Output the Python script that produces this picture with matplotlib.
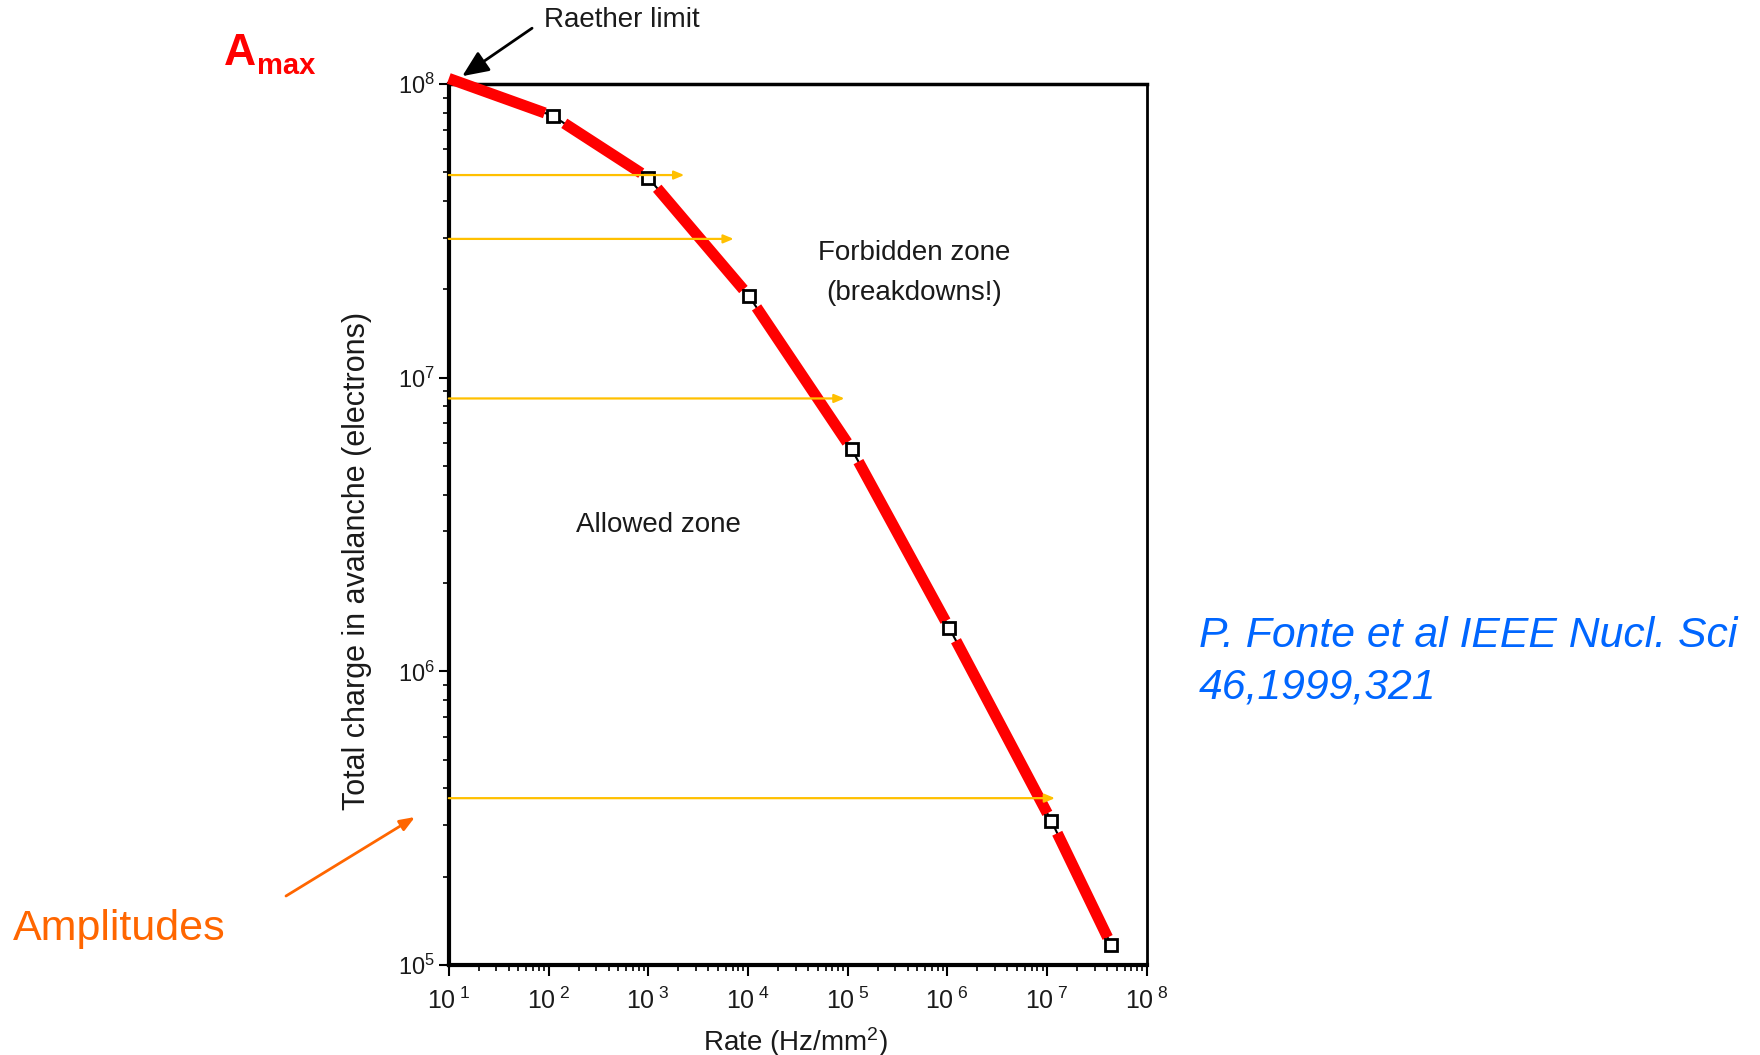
import numpy as np
import matplotlib
matplotlib.use('Agg')
import matplotlib.pyplot as plt

plt.rcParams['font.family'] = ['Liberation Sans', 'DejaVu Sans']
plt.rcParams['mathtext.fontset'] = 'custom'
plt.rcParams['mathtext.rm'] = 'Liberation Sans'
plt.rcParams['mathtext.it'] = 'Liberation Sans:italic'
plt.rcParams['mathtext.default'] = 'regular'

# measured points (rate in Hz/mm2, charge in electrons)
rate = [1.1e2, 1.0e3, 1.02e4, 1.1e5, 1.05e6, 1.1e7, 4.4e7]
charge = [7.8e7, 4.8e7, 1.9e7, 5.7e6, 1.4e6, 3.1e5, 1.17e5]
# start of the red curve at the Raether limit
limit_rate = 10
limit_charge = 1.045e8

# yellow amplitude arrows: level and where they hit the curve
arrow_charge = [4.9e7, 2.97e7, 8.5e6, 3.7e5]
arrow_rate_end = [2.3e3, 7.2e3, 9.3e4, 1.2e7]

xtick_exp = [1, 2, 3, 4, 5, 6, 7, 8]
ytick_exp = [5, 6, 7, 8]

fig = plt.figure(figsize=(17.6, 10.55), dpi=100)
ax = fig.add_axes([0.255, 0.0853, 0.3966, 0.835])
ax.set_xscale('log')
ax.set_yscale('log')
ax.set_xlim(1e1, 1e8)
ax.set_ylim(1e5, 1e8)

# thin scanned curve under the red overlay
ax.plot([limit_rate] + rate, [limit_charge] + charge, color='black', lw=1.5, zorder=2)

# red overlay drawn as segments with small gaps at the markers
xs = [limit_rate] + rate
ys = [limit_charge] + charge
for i in range(len(xs) - 1):
    ax.annotate('', xy=(xs[i + 1], ys[i + 1]), xytext=(xs[i], ys[i]),
                arrowprops=dict(arrowstyle='-', color='#ff0000', lw=8,
                                capstyle='butt',
                                shrinkA=0 if i == 0 else 10, shrinkB=6),
                zorder=3)

ax.plot(rate, charge, 's', ms=8, mfc='white', mec='black', mew=2, zorder=4)

# yellow arrows
for c, r in zip(arrow_charge, arrow_rate_end):
    ax.annotate('', xy=(r, c), xytext=(limit_rate, c),
                arrowprops=dict(arrowstyle='-|>,head_length=0.6,head_width=0.25',
                                color='#ffc000', lw=1.6, shrinkA=0, shrinkB=0),
                zorder=5)

ax.text(0.667, 0.808, 'Forbidden zone', transform=ax.transAxes,
        ha='center', va='center', fontsize=20, color='#1a1a1a')
ax.text(0.667, 0.763, '(breakdowns!)', transform=ax.transAxes,
        ha='center', va='center', fontsize=20, color='#1a1a1a')
ax.text(0.301, 0.499, 'Allowed zone', transform=ax.transAxes,
        ha='center', va='center', fontsize=20, color='#1a1a1a')

ax.set_xticks([10.0 ** e for e in xtick_exp])
ax.set_xticklabels(['10$^{\\ %d}$' % e for e in xtick_exp])
ax.set_yticks([10.0 ** e for e in ytick_exp])
ax.set_yticklabels(['10$^{%d}$' % e for e in ytick_exp])
ax.tick_params(axis='x', which='major', labelsize=18, length=8, width=1.5,
               direction='out', pad=8, colors='black', labelcolor='#1a1a1a')
ax.tick_params(axis='y', which='major', labelsize=17, length=7, width=1.5,
               direction='out', pad=3, labelcolor='#1a1a1a')
ax.tick_params(which='minor', length=4, width=1.2, direction='out')
ax.yaxis.set_minor_formatter(matplotlib.ticker.NullFormatter())
ax.xaxis.set_minor_formatter(matplotlib.ticker.NullFormatter())

ax.spines['left'].set_linewidth(3)
ax.spines['bottom'].set_linewidth(3)
ax.spines['top'].set_linewidth(2.5)
ax.spines['right'].set_linewidth(2)

ax.set_xlabel('Rate (Hz/mm$^2$)', fontsize=20, color='#1a1a1a', va='center')
ax.xaxis.set_label_coords(0.496, -0.087)
ax.set_ylabel('Total charge in avalanche (electrons)', fontsize=22,
              color='#1a1a1a', va='center')
ax.yaxis.set_label_coords(-0.132, 0.4586)

# Raether limit annotation
ax.annotate('Raether limit', xy=(10 ** 1.135, 10 ** 8.027),
            xytext=(544 / 1760, 1 - 20 / 1055), textcoords='figure fraction',
            fontsize=20, color='#1a1a1a', ha='left', va='center',
            arrowprops=dict(arrowstyle='-|>,head_length=0.8,head_width=0.35',
                            color='black', lw=2, shrinkA=8, shrinkB=0,
                            relpos=(0, 0.5)),
            annotation_clip=False)

fig.text(224 / 1760, 1 - 65 / 1055, 'A', fontsize=32, fontweight='bold',
         color='#ff0000', ha='left', va='baseline')
fig.text(257 / 1760, 1 - 74 / 1055, 'max', fontsize=21, fontweight='bold',
         color='#ff0000', ha='left', va='baseline')

fig.text(13 / 1760, 1 - 929 / 1055, 'Amplitudes', fontsize=31,
         color='#ff6600', ha='left', va='center')
ax.annotate('', xy=(415 / 1760, 1 - 817 / 1055), xycoords='figure fraction',
            xytext=(286 / 1760, 1 - 896 / 1055), textcoords='figure fraction',
            arrowprops=dict(arrowstyle='-|>,head_length=0.9,head_width=0.35',
                            color='#ff6600', lw=2, shrinkA=0, shrinkB=0),
            annotation_clip=False)

fig.text(1199 / 1760, 1 - 636 / 1055, 'P. Fonte et al IEEE Nucl. Sci',
         fontsize=30.8, style='italic', color='#0066ff', ha='left', va='center')
fig.text(1199 / 1760, 1 - 687 / 1055, '46,1999,321',
         fontsize=30.8, style='italic', color='#0066ff', ha='left', va='center')

fig.savefig('out.png', dpi=100)
